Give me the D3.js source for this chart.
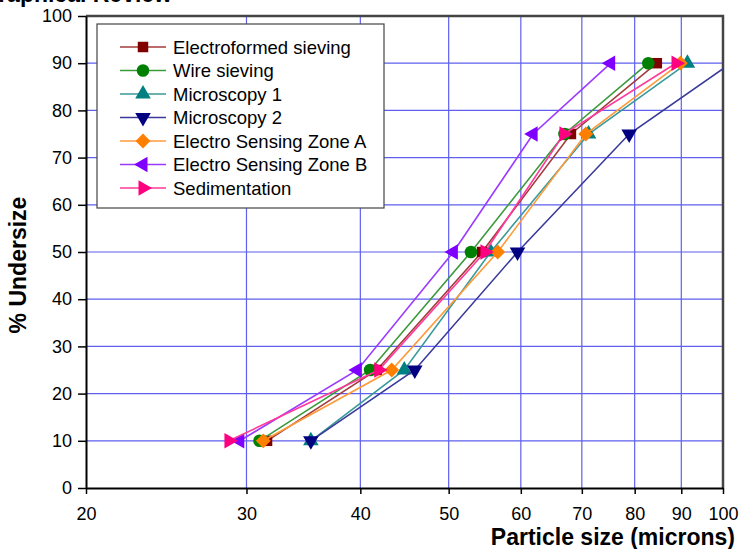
<!DOCTYPE html>
<html>
<head>
<meta charset="utf-8">
<script src="https://cdn.jsdelivr.net/npm/d3@7"></script>
<style>
  body { margin: 0; background: #fff; }
  svg { display: block; font-family: "Liberation Sans", Arial, sans-serif; }
  .tick text { font-size: 18px; fill: #000; }
</style>
</head>
<body>
<div id="vis"></div>
<script>
// chart size
const FRAME_WIDTH = 740;
const FRAME_HEIGHT = 549;
const PLOT = {left: 86, right: 723, top: 16, bottom: 488};

// data: % undersize vs particle size (microns)
const pctLevels = [10, 25, 50, 75, 90];
const electroformed = [31.6, 41.7, 54.4, 68.1, 84.6];
const wireSieving = [31.0, 41.0, 52.9, 67.0, 82.8];
const microscopy1 = [35.3, 44.7, 55.6, 71.2, 91.4];
const microscopy2 = [35.3, 45.9, 59.5, 78.9, 102];
const eszA = [31.3, 43.3, 56.6, 70.7, 89.8];
const eszB = [29.5, 39.7, 50.6, 61.9, 75.3];
const sedimentation = [28.7, 41.9, 54.8, 66.9, 88.8];

const seriesNames = ["Electroformed sieving", "Wire sieving", "Microscopy 1", "Microscopy 2",
  "Electro Sensing Zone A", "Electro Sensing Zone B", "Sedimentation"];
const xTicks = [20, 30, 40, 50, 60, 70, 80, 90, 100];
const yTicks = [0, 10, 20, 30, 40, 50, 60, 70, 80, 90, 100];

const series = [
  {name: seriesNames[0], vals: electroformed, marker: "#800000", line: "#a33b3b", shape: "square"},
  {name: seriesNames[1], vals: wireSieving, marker: "#008000", line: "#3a9a3a", shape: "circle"},
  {name: seriesNames[2], vals: microscopy1, marker: "#008080", line: "#3a9a9a", shape: "up"},
  {name: seriesNames[3], vals: microscopy2, marker: "#000080", line: "#3a3a9a", shape: "down"},
  {name: seriesNames[4], vals: eszA, marker: "#ff8000", line: "#ff9a3a", shape: "diamond"},
  {name: seriesNames[5], vals: eszB, marker: "#8000ff", line: "#9a3aff", shape: "left"},
  {name: seriesNames[6], vals: sedimentation, marker: "#ff0080", line: "#ff3a9a", shape: "right"}
];

const svg = d3.select("#vis").append("svg")
  .attr("width", FRAME_WIDTH)
  .attr("height", FRAME_HEIGHT);

const X_SCALE = d3.scaleLog().domain([20, 100]).range([PLOT.left, PLOT.right]);
const Y_SCALE = d3.scaleLinear().domain([0, 100]).range([PLOT.bottom, PLOT.top]);

// clipped title from the page above
svg.append("text")
  .attr("x", 172).attr("y", 2)
  .attr("text-anchor", "end")
  .attr("font-size", 23).attr("font-weight", "bold")
  .text("Graphical Review");

svg.append("clipPath").attr("id", "plotclip")
  .append("rect")
  .attr("x", PLOT.left).attr("y", PLOT.top)
  .attr("width", PLOT.right - PLOT.left).attr("height", PLOT.bottom - PLOT.top);

// grid
const grid = svg.append("g");
grid.selectAll(".gx")
  .data(xTicks.slice(1, -1))
  .enter().append("line")
    .attr("x1", d => X_SCALE(d)).attr("x2", d => X_SCALE(d))
    .attr("y1", PLOT.top).attr("y2", PLOT.bottom)
    .attr("stroke", "#5f5ff0").attr("stroke-width", 1.2);
grid.selectAll(".gy")
  .data(yTicks.slice(1, -1))
  .enter().append("line")
    .attr("y1", d => Y_SCALE(d)).attr("y2", d => Y_SCALE(d))
    .attr("x1", PLOT.left).attr("x2", PLOT.right)
    .attr("stroke", "#5f5ff0").attr("stroke-width", 1.2);

// frame top / right
svg.append("path")
  .attr("d", `M${PLOT.left},${PLOT.top}H${PLOT.right}V${PLOT.bottom}`)
  .attr("fill", "none").attr("stroke", "#444").attr("stroke-width", 2.5);

// axes
const xAxis = d3.axisBottom(X_SCALE).tickValues(xTicks).tickFormat(d3.format("d"))
  .tickSize(6).tickSizeOuter(0).tickPadding(13);
const gx = svg.append("g").attr("transform", `translate(0,${PLOT.bottom})`).call(xAxis);
const yAxis = d3.axisLeft(Y_SCALE).tickValues(yTicks).tickSize(8).tickSizeOuter(0).tickPadding(6);
const gy = svg.append("g").attr("transform", `translate(${PLOT.left},0)`).call(yAxis);
[gx, gy].forEach(g => {
  g.select(".domain").attr("stroke", "#000").attr("stroke-width", 2);
  g.selectAll(".tick line").attr("stroke", "#000").attr("stroke-width", 1.5);
  g.selectAll(".tick text").attr("font-family", "Liberation Sans, Arial, sans-serif");
});

function symbolPath(shape) {
  if (shape === "square") return d3.symbol(d3.symbolSquare, 110)();
  if (shape === "circle") return d3.symbol(d3.symbolCircle, 125)();
  if (shape === "diamond") return d3.symbol(d3.symbolSquare, 110)();
  return d3.symbol(d3.symbolTriangle, 105)();
}
function symbolRotate(shape) {
  return {diamond: 45, down: 180, left: -90, right: 90}[shape] || 0;
}

const line = d3.line()
  .x(d => X_SCALE(d[0]))
  .y(d => Y_SCALE(d[1]));

const plot = svg.append("g").attr("clip-path", "url(#plotclip)");
series.forEach(s => {
  const pts = s.vals.map((v, i) => [v, pctLevels[i]]);
  plot.append("path")
    .datum(pts)
    .attr("d", line)
    .attr("fill", "none")
    .attr("stroke", s.line)
    .attr("stroke-width", 1.6);
  plot.selectAll(null)
    .data(pts)
    .enter().append("path")
      .attr("d", symbolPath(s.shape))
      .attr("transform", d => `translate(${X_SCALE(d[0])},${Y_SCALE(d[1])}) rotate(${symbolRotate(s.shape)})`)
      .attr("fill", s.marker);
});

// legend
const legend = svg.append("g");
legend.append("rect")
  .attr("x", 97).attr("y", 24).attr("width", 287).attr("height", 184)
  .attr("fill", "#fff").attr("stroke", "#444").attr("stroke-width", 1.2);
const rows = legend.selectAll(".row")
  .data(series)
  .enter().append("g")
    .attr("transform", (d, i) => `translate(0,${47 + i * 23.5})`);
rows.append("line")
  .attr("x1", 120).attr("x2", 166)
  .attr("stroke", d => d.line).attr("stroke-width", 1.6);
rows.append("path")
  .attr("d", d => symbolPath(d.shape))
  .attr("transform", d => `translate(143,0) rotate(${symbolRotate(d.shape)})`)
  .attr("fill", d => d.marker);
rows.append("text")
  .attr("x", 173).attr("y", 6.5)
  .attr("font-size", 18.5)
  .text(d => d.name);

// axis titles
svg.append("text")
  .attr("x", 735).attr("y", 545)
  .attr("text-anchor", "end")
  .attr("font-size", 23).attr("font-weight", "bold")
  .text("Particle size (microns)");
svg.append("text")
  .attr("transform", "translate(26,265) rotate(-90)")
  .attr("text-anchor", "middle")
  .attr("font-size", 23).attr("font-weight", "bold")
  .text("% Undersize");
</script>
</body>
</html>
